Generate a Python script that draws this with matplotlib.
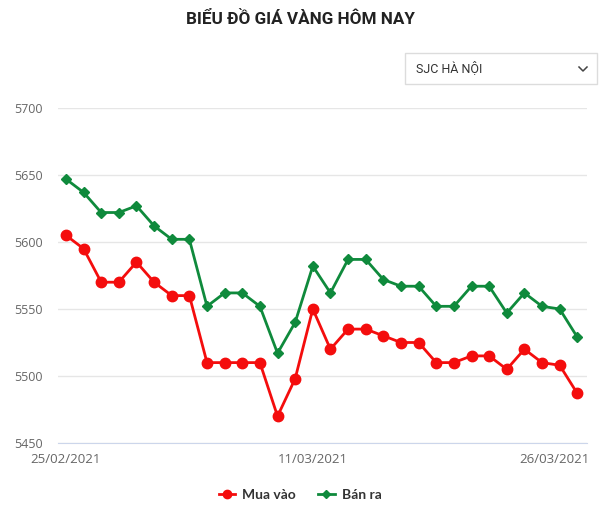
import matplotlib
matplotlib.use("Agg")
from matplotlib import pyplot as plt
from matplotlib.patches import FancyBboxPatch
from matplotlib.lines import Line2D
import matplotlib.transforms as mtransforms

plt.rcParams['font.family'] = ['Roboto', 'DejaVu Sans']

# dữ liệu giá vàng SJC Hà Nội (nghìn đồng/chỉ)
mua_vao = [5605, 5595, 5570, 5570, 5585, 5570, 5560, 5560, 5510, 5510,
           5510, 5510, 5470, 5498, 5550, 5520, 5535, 5535, 5530, 5525,
           5525, 5510, 5510, 5515, 5515, 5505, 5520, 5510, 5508, 5487]
ban_ra = [5647, 5637, 5622, 5622, 5627, 5612, 5602, 5602, 5552, 5562,
          5562, 5552, 5517, 5540, 5582, 5562, 5587, 5587, 5572, 5567,
          5567, 5552, 5552, 5567, 5567, 5547, 5562, 5552, 5550, 5529]
tick_idx = [0, 14, 29]
tick_labels = ["25/02/2021", "11/03/2021", "26/03/2021"]
y_ticks = [5450, 5500, 5550, 5600, 5650, 5700]

red = "#f40d0d"
green = "#0f8a3c"

fig = plt.figure(figsize=(6, 5.19), dpi=100)
ax = fig.add_axes([58 / 600, 76 / 519, 529 / 600, 335 / 519])

x = list(range(len(mua_vao)))
ax.plot(x, mua_vao, color=red, lw=2, marker="o", ms=7.5, label="Mua vào", zorder=3)
ax.plot(x, ban_ra, color=green, lw=2, marker="D", ms=5, label="Bán ra", zorder=3)

ax.set_xlim(-0.45, 29.55)
ax.set_ylim(5450, 5700)
ax.set_yticks(y_ticks)
ax.set_yticklabels([str(v) for v in y_ticks], fontsize=9, color="#666666",
                   family=["Open Sans", "DejaVu Sans"])
ax.set_xticks(tick_idx)
ax.set_xticklabels(tick_labels, fontsize=9.5, color="#666666",
                   family=["Open Sans", "DejaVu Sans"])
ax.tick_params(length=0)
ax.tick_params(axis="x", pad=7)
ax.tick_params(axis="y", pad=11)
# nhãn cuối căn phải như Highcharts
last = ax.get_xticklabels()[-1]
last.set_horizontalalignment("right")
last.set_transform(last.get_transform() + mtransforms.ScaledTranslation(12 / 100, 0, fig.dpi_scale_trans))

ax.grid(axis="y", color="#e6e6e6", lw=1)
ax.set_axisbelow(True)
for s in ["top", "right", "left"]:
    ax.spines[s].set_visible(False)
ax.spines["bottom"].set_color("#ccd6eb")

fig.text(0.5, 1 - 19 / 519, "BIỂU ĐỒ GIÁ VÀNG HÔM NAY", ha="center", va="center",
         fontsize=12.3, fontweight="bold", color="#222222")

# ô chọn "SJC HÀ NỘI"
box = FancyBboxPatch((405 / 600, 1 - 84 / 519), 192 / 600, 31 / 519,
                     boxstyle="square,pad=0", transform=fig.transFigure,
                     facecolor="white", edgecolor="#dcdcdc", lw=1)
fig.add_artist(box)
fig.text(416 / 600, 1 - 68 / 519, "SJC HÀ NỘI", ha="left", va="center",
         fontsize=9, color="#333333")
chev = Line2D([579 / 600, 583 / 600, 587 / 600],
              [1 - 67 / 519, 1 - 71 / 519, 1 - 67 / 519],
              transform=fig.transFigure, color="#444444", lw=1.1)
fig.add_artist(chev)

leg = fig.legend(loc="center", bbox_to_anchor=(0.5, 1 - 495 / 519), ncol=2, frameon=False,
                 handlelength=1.2, columnspacing=1.6, handletextpad=0.5, markerscale=0.8,
                 prop={"weight": "bold", "size": 10, "family": ["Lato", "DejaVu Sans"]},
                 labelcolor="#333333")

fig.savefig("out.png", dpi=100)
